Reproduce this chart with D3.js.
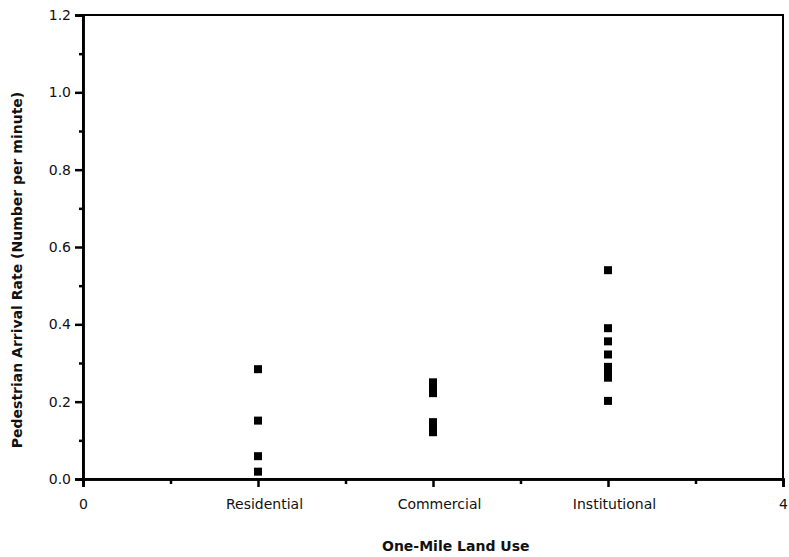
<!DOCTYPE html>
<html lang="en">
<head>
<meta charset="utf-8">
<title>Pedestrian Arrival Rate by Land Use</title>
<script src="https://d3js.org/d3.v7.min.js"></script>
<style>
  body { margin: 0; background: #fff; }
  text { font-family: "DejaVu Sans", Arial, Helvetica, sans-serif; fill: #111; }
</style>
</head>
<body>
<svg id="chart" width="789" height="557"></svg>
<script>
// data
var categories = ["Residential", "Commercial", "Institutional"];
var catPositions = [1, 2, 3];
var residentialRates = [0.284, 0.151, 0.059, 0.019];
var commercialRates = [0.250, 0.236, 0.222, 0.147, 0.134, 0.121];
var institutionalRates = [0.540, 0.390, 0.356, 0.322, 0.290, 0.276, 0.262, 0.202];
var xTickValues = [0, 1, 2, 3, 4];
var xTickLabels = ["0", "Residential", "Commercial", "Institutional", "4"];
var yTickValues = [0, 0.2, 0.4, 0.6, 0.8, 1.0, 1.2];

var seriesByCat = [residentialRates, commercialRates, institutionalRates];
var points = [];
seriesByCat.forEach(function (vals, i) {
    vals.forEach(function (v) { points.push({x: catPositions[i], y: v}); });
});

var svg = d3.select("#chart");
var margin = {top: 15, right: 6, bottom: 78, left: 83};
var width = 789 - margin.left - margin.right,
    height = 557 - margin.top - margin.bottom;

var g = svg.append("g").attr("transform", "translate(" + margin.left + "," + margin.top + ")");

var x = d3.scaleLinear().domain([0, 4]).range([0, width]);
var y = d3.scaleLinear().domain([0, 1.2]).range([height, 0]);

// frame
g.append("rect")
    .attr("x", 0).attr("y", 0)
    .attr("width", width).attr("height", height)
    .attr("fill", "none").attr("stroke", "#000").attr("stroke-width", 2);

// minor ticks
var yMinor = d3.axisLeft(y).tickValues(d3.range(0.1, 1.2, 0.2)).tickSize(4).tickFormat("");
var xMinor = d3.axisBottom(x).tickValues(d3.range(0.5, 4, 1)).tickSize(5).tickFormat("");
g.append("g").attr("class", "minor").call(yMinor);
g.append("g").attr("class", "minor").attr("transform", "translate(0," + height + ")").call(xMinor);

// major axes
var yAxis = d3.axisLeft(y).tickValues(yTickValues).tickSize(8).tickPadding(4).tickFormat(d3.format(".1f"));
var xAxis = d3.axisBottom(x).tickValues(xTickValues).tickSize(8).tickPadding(12)
    .tickFormat(function (d, i) { return xTickLabels[i]; });

g.append("g").attr("class", "yaxis").call(yAxis);
g.append("g").attr("class", "xaxis").attr("transform", "translate(0," + height + ")").call(xAxis);

g.selectAll(".domain").attr("stroke", "#000").attr("stroke-width", 2.5);
g.selectAll(".tick line").attr("stroke", "#000").attr("stroke-width", 2.5);
g.selectAll(".tick text").style("font-size", "14px").attr("fill", "#111");
// category labels sit a little right of their ticks in the original
g.selectAll(".xaxis .tick text").attr("dx", function (d) { return d > 0 && d < 4 ? 6 : 0; });

// points
var sq = 8;
g.selectAll(".pt")
    .data(points)
    .enter().append("rect")
    .attr("class", "pt")
    .attr("x", function (d) { return x(d.x) - sq / 2; })
    .attr("y", function (d) { return y(d.y) - sq / 2; })
    .attr("width", sq).attr("height", sq)
    .attr("fill", "#000");

// axis titles
svg.append("text")
    .attr("transform", "translate(22,270) rotate(-90)")
    .attr("text-anchor", "middle")
    .style("font-size", "14px")
    .style("font-weight", "bold")
    .text("Pedestrian Arrival Rate (Number per minute)");

svg.append("text")
    .attr("x", 382)
    .attr("y", 551)
    .style("font-size", "14px")
    .style("font-weight", "bold")
    .text("One-Mile Land Use");
</script>
</body>
</html>
